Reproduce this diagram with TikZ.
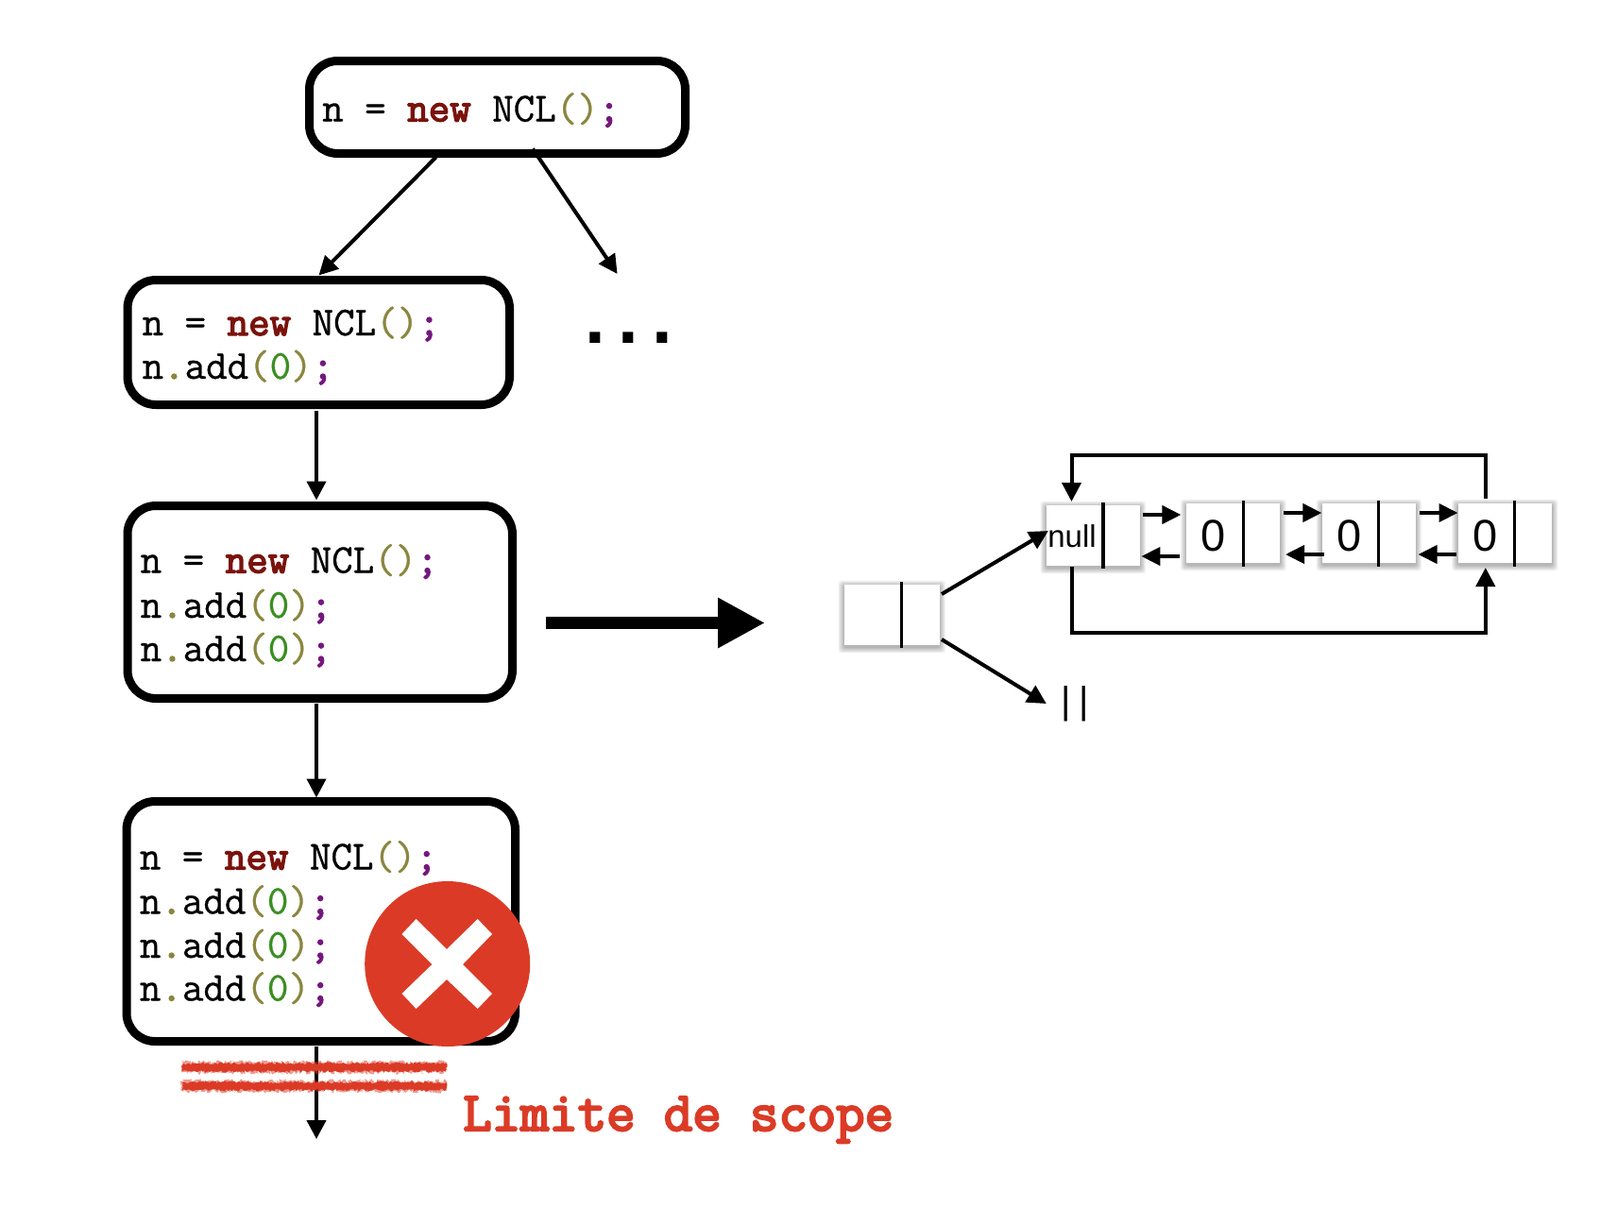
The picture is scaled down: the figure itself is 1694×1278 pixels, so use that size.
\documentclass[tikz,border=0pt]{standalone}
\usepackage{fontspec}
\setmainfont{Liberation Sans}
\setmonofont{Latin Modern Mono}
\newfontfamily\codefont[FakeBold=0.7]{Latin Modern Mono}
\newfontfamily\boldmono[FakeBold=3.2]{Latin Modern Mono}
\newfontfamily\limitmono[FakeBold=4]{Latin Modern Mono}
\newfontfamily\semimono[FakeBold=3.2]{Latin Modern Mono}
\newfontfamily\dotfont{Liberation Sans}
\usetikzlibrary{arrows.meta,decorations.pathmorphing}
\definecolor{kw}{HTML}{7A130C}
\definecolor{par}{HTML}{8A8640}
\definecolor{num}{HTML}{3B8E22}
\definecolor{sm}{HTML}{75177F}
\definecolor{redx}{HTML}{DB3B26}
\newcommand\codesize{\fontsize{43.7}{46}\selectfont}
\newcommand\lineNew{n = {\boldmono\codesize\color{kw}new} NCL{\color{par}()}{\semimono\codesize\color{sm};}}
\newcommand\lineAdd{n{\semimono\codesize\color{par}.}add{\color{par}(}{\color{num}0}{\color{par})}{\semimono\codesize\color{sm};}}
\tikzset{
  x=1pt,y=-1pt,
  codebox/.style={draw=black,line width=9pt,rounded corners=30pt,fill=white,inner sep=0pt,outer sep=0pt},
  code/.style={font=\codefont\codesize,anchor=base west,inner sep=0pt,text=black},
  cell/.style={fill=white,inner sep=0pt,outer sep=0pt},
  conn/.style={line width=4pt,-{Triangle[length=20pt,width=20pt]}},
  smallconn/.style={line width=4pt,-{Triangle[length=20pt,width=19pt]}},
  divider/.style={line width=3.5pt},
  celltext/.style={font=\fontsize{47}{50}\selectfont,inner sep=0pt,anchor=base,text=black},
  scribble/.style={fill=redx,decorate,decoration={random steps,segment length=1.5pt,amplitude=1.5pt}},
  scribblesoft/.style={fill=redx,opacity=0.5,decorate,decoration={random steps,segment length=1.2pt,amplitude=2.2pt}}
}
\newcommand\cellbox[5]{% name cx cy w h
  \foreach \k in {8,7,...,1}{
    \fill[black,opacity=0.04,rounded corners=3pt] (#2-#4/2-\k*0.8,#3-#5/2-\k*0.8+2) rectangle (#2+#4/2+\k*0.8,#3+#5/2+\k*0.8+2);
  }
  \node[cell,minimum width=#4pt,minimum height=#5pt] (#1) at (#2,#3) {};
}
\newcommand\scribbleband[3]{% x1 x2 y
  \path[scribblesoft] (#1,#3-5.5) rectangle (#2,#3+5.5);
  \path[scribble] (#1+0.5,#3-4.2) rectangle (#2-0.5,#3+4.2);
}
\begin{document}
\begin{tikzpicture}
\useasboundingbox (0,0) rectangle (1694,1278);
\fill[white] (0,0) rectangle (1694,1278);

% code boxes
\node[codebox,minimum width=398pt,minimum height=98pt] (box1) at (526.5,113.5) {};
\node[codebox,minimum width=404.5pt,minimum height=132pt] (box2) at (337.25,362.5) {};
\node[codebox,minimum width=407.5pt,minimum height=204pt] (box3) at (338.75,637.5) {};
\node[codebox,minimum width=411.5pt,minimum height=254pt] (box4) at (339.75,975.5) {};

\node[code] (t1) at (341,128.5) {\lineNew};
\node[code] (t2a) at (150.4,355) {\lineNew};
\node[code] (t2b) at (150.4,401) {\lineAdd};
\node[code] (t3a) at (148.5,606.5) {\lineNew};
\node[code] (t3b) at (148.5,654) {\lineAdd};
\node[code] (t3c) at (148.5,700) {\lineAdd};
\node[code] (t4a) at (147.7,920.5) {\lineNew};
\node[code] (t4b) at (147.7,967.5) {\lineAdd};
\node[code] (t4c) at (147.7,1014) {\lineAdd};
\node[code] (t4d) at (147.7,1059.5) {\lineAdd};

% dots
\node[font=\fontsize{78}{80}\dotfont\bfseries,inner sep=0pt,anchor=base] (dots) at (665.5,363) {.\kern14pt.\kern14pt.};

% flow connectors
\coordinate (tdots) at (653.6,290);
\coordinate (tend) at (335,1206);
\draw[conn] ([xshift=134pt,yshift=-4pt]box1.south west) -- ([xshift=0.25pt,yshift=5pt]box2.north);
\draw[conn] ([xshift=236.5pt,yshift=5pt]box1.south west) -- (tdots);
\draw[conn] ([xshift=-2.25pt,yshift=-6pt]box2.south) -- ([xshift=-3.75pt,yshift=6pt]box3.north);
\draw[conn] ([xshift=-3.75pt,yshift=-5pt]box3.south) -- ([xshift=-4.75pt,yshift=4pt]box4.north);

% scope limit
\draw[conn] ([xshift=-4.75pt,yshift=-5pt]box4.south) -- (tend);
\scribbleband{192.7}{472.7}{1130}
\scribbleband{192.7}{472.7}{1150}

% red cross
\node[circle,fill=redx,minimum size=175pt,inner sep=0pt] (stop) at (473.7,1020.5) {};
\fill[white] (440.6,973) -- (473,1005) -- (505.7,973) -- (521,989) -- (490,1021) -- (521,1052) -- (505.7,1068) -- (473,1037) -- (440.6,1068) -- (425.5,1052) -- (457.5,1021) -- (425.5,989) -- cycle;
\node[font=\limitmono\fontsize{59}{60}\selectfont,text=redx,anchor=base west,inner sep=0pt] (limit) at (490,1197) {Limite de scope};

% big arrow
\coordinate (bigend) at (810,659.5);
\draw[line width=13pt,-{Triangle[length=50pt,width=50pt]}] ([xshift=35.5pt,yshift=-22pt]box3.east) -- (bigend);

% list cells
\cellbox{head}{944.3}{651}{100.6}{64}
\cellbox{c0}{1157.35}{567}{98.9}{64}
\cellbox{c1}{1305.75}{564.5}{98.9}{63}
\cellbox{c2}{1449.4}{564.5}{98.8}{63}
\cellbox{c3}{1593.25}{564.5}{99.5}{63}
\draw[divider] (954.7,616) -- (954.7,686);
\draw[divider] (1168,532) -- (1168,602);
\draw[divider] (1316.4,530) -- (1316.4,600);
\draw[divider] (1459.5,530) -- (1459.5,600);
\draw[divider] (1603.6,530) -- (1603.6,600);
\node[font=\fontsize{33}{36}\selectfont,inner sep=0pt,anchor=base] (tnull) at (1135,579) {null};
\node[celltext] (z1) at (1285,583) {0};
\node[celltext] (z2) at (1429,583) {0};
\node[celltext] (z3) at (1572.5,583) {0};
\node[font=\fontsize{40}{42}\selectfont,inner sep=0pt] (nil) at (1138,745) {|\kern8pt|};

% list connectors
\draw[conn] ([xshift=2.4pt,yshift=22pt]head.east) -- ([xshift=2pt,yshift=5pt]c0.west);
\draw[conn] ([xshift=2.4pt,yshift=-26pt]head.east) -- ([xshift=-15.6pt]nil.west);
\draw[smallconn] ([xshift=3.2pt,yshift=22pt]c0.east) -- ([xshift=-5.9pt,yshift=19.5pt]c1.west);
\draw[smallconn] ([xshift=-7.5pt,yshift=-24.5pt]c1.west) -- ([xshift=1.6pt,yshift=-22pt]c0.east);
\draw[smallconn] ([xshift=3.8pt,yshift=21.5pt]c1.east) -- ([xshift=-0.6pt,yshift=21.5pt]c2.west);
\draw[smallconn] ([xshift=1.5pt,yshift=-22.5pt]c2.west) -- ([xshift=5.8pt,yshift=-22.5pt]c1.east);
\draw[smallconn] ([xshift=4.2pt,yshift=21.5pt]c2.east) -- ([yshift=21.5pt]c3.west);
\draw[smallconn] ([xshift=-1.5pt,yshift=-22.5pt]c3.west) -- ([xshift=2.7pt,yshift=-22.5pt]c2.east);
\draw[conn] ([xshift=-20.45pt,yshift=5pt]c3.north) -- ++(0,-46) -| ([xshift=-22.85pt,yshift=4pt]c0.north);
\draw[conn] ([xshift=-22.85pt,yshift=-1pt]c0.south) -- ++(0,70) -| ([xshift=-20.45pt,yshift=-5pt]c3.south);
\end{tikzpicture}
\end{document}
